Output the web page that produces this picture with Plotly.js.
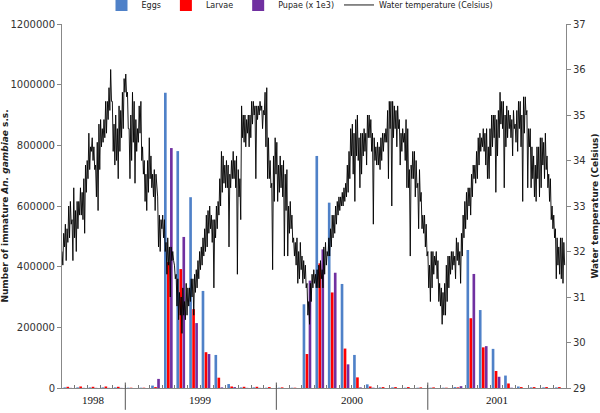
<!DOCTYPE html>
<html><head><meta charset="utf-8">
<script src="https://cdn.plot.ly/plotly-3.0.1.min.js"></script>
<style>html,body{margin:0;padding:0;background:#fff}#chart{width:600px;height:413px}</style>
</head><body><div id="chart"></div>
<script>
const months = ['1998-08','1998-09','1998-10','1998-11','1998-12',
  '1999-01','1999-02','1999-03','1999-04','1999-05','1999-06','1999-07','1999-08','1999-09','1999-10','1999-11','1999-12',
  '2000-01','2000-02','2000-03','2000-04','2000-05','2000-06','2000-07','2000-08','2000-09','2000-10','2000-11','2000-12',
  '2001-01','2001-02','2001-03','2001-04','2001-05','2001-06','2001-07','2001-08','2001-09','2001-10','2001-11'];
const eggs = [2000,2000,2000,2000,2000,
  1000,1000,8000,973000,781000,629000,320000,109000,13000,2000,2000,1000,
  1000,1000,276000,765000,611000,343000,109000,12000,2000,2000,1000,1000,
  1000,1000,3000,455000,257000,129000,41000,5000,2000,2000,2000];
const larvae = [4000,5000,4000,5000,4000,
  1000,1000,3000,415000,392000,260000,118000,34000,5000,4000,4000,3000,
  2000,1000,112000,411000,315000,130000,35000,5000,3000,3000,3000,2000,
  2000,1000,2000,230000,134000,56000,15000,3000,3000,3000,3000];
const pupae = [500,500,500,500,500,
  0,0,30000,791000,498000,214000,112000,2000,3000,500,500,0,
  0,0,354000,457000,380000,78000,2000,1000,0,0,0,0,
  0,0,6000,376000,138000,37000,1000,0,0,0,0];
const yearLabels = ['1998','1999','2000','2001'];
const yearBounds = ['1998-08-01','1999-01-01','2000-01-01','2001-01-01','2001-12-01'];
const tempStart = '1998-08-01';
const tempStepDays = 2.028;
const waterTemp = [
32.0,31.7,32.4,32.1,32.6,31.8,32.5,32.2,33.0,32.3,33.1,32.6,32.7,31.8,33.4,32.3,32.9,32.0,33.1,32.5,
33.1,32.8,33.4,32.8,33.3,32.7,33.6,32.4,33.9,33.3,34.0,33.6,34.6,33.8,34.3,34.2,34.5,34.0,34.3,33.8,
33.9,33.2,34.4,32.9,34.8,33.8,34.9,34.3,34.7,34.4,34.9,34.5,35.3,34.6,35.3,34.9,35.6,35.1,36.0,35.3,
35.3,34.2,34.8,33.9,35.0,34.0,34.7,33.6,35.2,34.2,35.1,34.5,35.5,34.7,35.8,35.5,35.9,35.4,35.5,34.7,
34.7,33.6,35.0,34.0,35.5,34.4,35.3,33.5,34.9,34.2,34.7,34.4,35.2,34.6,35.3,34.0,34.3,33.7,34.0,33.1,
33.7,32.9,34.0,33.3,34.5,33.6,34.1,33.4,33.7,33.2,33.8,32.9,33.7,33.3,33.2,32.1,
32.8,32.0,32.7,32.5,32.8,32.3,32.7,32.0,32.2,31.5,32.3,31.7,32.1,31.0,32.1,31.8,32.0,31.8,31.7,31.4,
31.5,30.8,31.4,30.5,31.1,30.6,31.0,30.2,31.2,30.6,30.9,30.5,31.3,30.6,31.2,30.8,31.2,30.9,31.4,31.0,
31.4,30.6,31.5,31.1,31.6,31.2,31.8,31.4,32.0,31.6,32.1,31.7,32.3,31.9,32.5,32.0,32.8,32.1,32.9,32.4,
33.0,32.5,32.8,32.2,32.7,31.2,32.7,32.3,33.0,32.5,33.1,32.8,33.6,33.0,34.2,33.3,34.1,33.5,33.9,33.4,
34.0,33.4,33.9,32.1,33.7,33.4,34.0,33.6,34.2,33.6,34.0,33.4,34.1,31.5,33.8,33.2,33.6,32.7,35.2,34.5,
35.0,34.4,35.0,34.3,34.9,34.6,35.0,34.3,35.0,34.5,35.3,34.8,35.3,35.0,35.2,33.6,35.2,34.9,35.2,35.0,
35.3,35.1,35.2,34.7,35.1,35.0,35.5,34.3,35.6,33.6,
34.5,33.6,34.0,33.4,33.5,31.6,34.1,33.1,34.5,33.7,34.4,33.1,33.9,33.3,34.1,33.4,33.9,33.2,34.0,31.9,
33.7,32.9,33.8,31.9,33.0,32.4,33.1,32.5,32.8,32.2,32.3,31.9,32.2,31.7,32.3,31.3,32.0,31.4,32.2,31.6,
31.9,31.3,31.8,31.4,31.7,31.2,31.3,30.6,30.9,30.4,31.3,30.9,31.5,31.2,31.6,31.3,31.5,31.2,31.6,31.2,
31.7,31.2,31.8,31.4,31.6,31.2,32.1,31.5,32.2,31.7,32.0,31.9,32.3,31.9,32.5,32.1,32.8,32.3,32.8,32.4,
33.0,32.6,33.1,32.8,33.2,32.9,33.2,33.0,33.3,33.0,33.4,33.1,33.5,33.2,33.9,33.3,34.2,33.6,34.7,34.1,
34.8,33.7,34.6,33.1,34.9,34.1,35.0,34.0,34.5,33.4,34.6,33.7,34.6,34.1,34.7,34.2,34.6,33.9,35.0,34.5,
35.0,34.5,34.9,34.2,34.6,32.6,34.5,34.0,34.3,33.9,34.4,33.9,34.3,33.8,34.5,34.0,34.6,34.2,34.6,34.4,
34.7,34.4,35.1,33.6,35.3,34.7,35.3,33.0,35.3,34.5,35.2,34.7,35.1,34.3,35.2,34.7,34.9,33.9,34.6,34.2,
34.7,34.4,34.6,34.0,34.9,33.4,34.7,33.4,33.8,31.9,33.9,33.6,34.2,33.6,34.2,33.2,34.0,33.4,33.5,32.5,
33.8,33.1,33.3,32.5,32.8,32.4,32.8,32.1,32.6,31.9,32.0,31.2,31.7,30.9,32.0,31.2,32.0,31.5,31.9,31.7,
32.0,31.4,31.8,30.9,31.3,30.8,31.2,30.4,31.1,30.6,31.3,30.6,31.7,30.9,31.9,31.2,31.9,31.5,32.0,31.6,
32.0,31.7,31.9,31.4,32.3,31.8,32.2,31.7,32.0,31.3,32.4,31.9,32.8,32.3,33.1,32.5,
33.3,32.7,33.4,33.0,33.4,32.8,33.7,33.2,33.9,33.6,33.9,33.5,34.2,33.6,34.5,33.9,34.6,34.2,34.5,34.3,
34.7,34.2,34.6,33.9,34.7,33.6,34.3,33.6,34.7,34.1,35.0,34.3,35.0,34.5,35.0,33.3,34.9,34.1,35.1,34.5,
35.5,34.8,35.3,34.7,35.3,33.4,35.0,34.3,35.2,34.5,35.1,34.7,35.0,34.5,34.9,34.1,35.1,34.7,34.8,34.4,
35.1,34.2,35.3,34.7,35.3,34.3,35.0,33.1,35.4,34.6,35.4,35.0,35.1,33.4,34.7,34.3,34.7,33.4,34.3,33.6,
34.1,33.2,33.9,33.1,34.3,33.6,34.3,33.2,34.5,33.4,34.5,33.9,34.4,33.6,34.6,33.8,34.1,33.4,33.7,33.1,
33.6,32.7,33.0,32.5,32.8,32.3,32.5,31.4,32.3,31.7,32.1,31.5,32.3,31.4,32.3,31.3,32.2,31.7];

const barX = months.map(m => m + '-15');
const t0 = Date.parse(tempStart + 'T00:00:00Z');
const toStr = ms => new Date(ms).toISOString().slice(0,19).replace('T',' ');
const tempX = waterTemp.map((_, i) => toStr(t0 + i * tempStepDays * 864e5));

const tickFont = {family:'DejaVu Sans', size:10, color:'#333'};
const traces = [
  {type:'bar', name:'Eggs', x:barX, y:eggs, marker:{color:'#4F81C8'}},
  {type:'bar', name:'Larvae', x:barX, y:larvae, marker:{color:'#FF0000'}},
  {type:'bar', name:'Pupae (x 1e3)', x:barX, y:pupae, marker:{color:'#7030A0'}},
  {type:'scatter', mode:'lines', name:'Water temperature (Celsius)', x:tempX, y:waterTemp, yaxis:'y2',
   line:{color:'#000', width:0.9}}
];

const shapes = yearBounds.slice(1, -1).map(d => ({
  type:'line', xref:'x', yref:'paper', x0:d, x1:d, y0:0.015, y1:-0.06,
  line:{color:'#555', width:1}
}));
const annotations = yearLabels.map((lab, i) => {
  const a = Date.parse(yearBounds[i] + 'T00:00:00Z'), b = Date.parse(yearBounds[i+1] + 'T00:00:00Z');
  return {text:lab, x:toStr((a+b)/2), xref:'x', y:-0.032, yref:'paper', yanchor:'middle', showarrow:false,
    font:{family:'Liberation Serif', size:11, color:'#111'}};
});

const layout = {
  width:600, height:413,
  margin:{l:62, r:34, t:24, b:25, autoexpand:false},
  paper_bgcolor:'#fff', plot_bgcolor:'#fff',
  barmode:'group', bargap:0.22, bargroupgap:0.12,
  font:{family:'DejaVu Sans', size:10, color:'#333'},
  showlegend:true,
  legend:{orientation:'h', x:0.5, xref:'container', xanchor:'center', y:0.988, yref:'container', yanchor:'middle',
    font:{family:'DejaVu Sans', size:8, color:'#222'}, bgcolor:'rgba(0,0,0,0)', itemwidth:30},
  xaxis:{type:'date', range:[yearBounds[0], yearBounds[yearBounds.length-1]], tick0:yearBounds[0], dtick:'M1',
    ticks:'inside', ticklen:3, tickcolor:'#777', showticklabels:false, showline:true, linecolor:'#888',
    showgrid:false, zeroline:false},
  yaxis:{range:[0,1200000], dtick:200000, tickformat:'d', ticks:'outside', ticklen:4, tickcolor:'#888',
    showline:true, linecolor:'#888', showgrid:false, zeroline:false, tickfont:tickFont,
    title:{text:'<b>Number of immature <i>An. gambiae</i> s.s.</b>', font:{family:'DejaVu Sans', size:9, color:'#222'}, standoff:6}},
  yaxis2:{overlaying:'y', side:'right', range:[29,37], dtick:1, ticks:'outside', ticklen:4, tickcolor:'#888',
    showline:true, linecolor:'#888', showgrid:false, zeroline:false, tickfont:tickFont,
    title:{text:'<b>Water temperature (Celsius)</b>', font:{family:'DejaVu Sans', size:9, color:'#222'}, standoff:6}},
  shapes:shapes,
  annotations:annotations
};

Plotly.newPlot('chart', traces, layout, {displayModeBar:false, staticPlot:true});
</script>
</body></html>
